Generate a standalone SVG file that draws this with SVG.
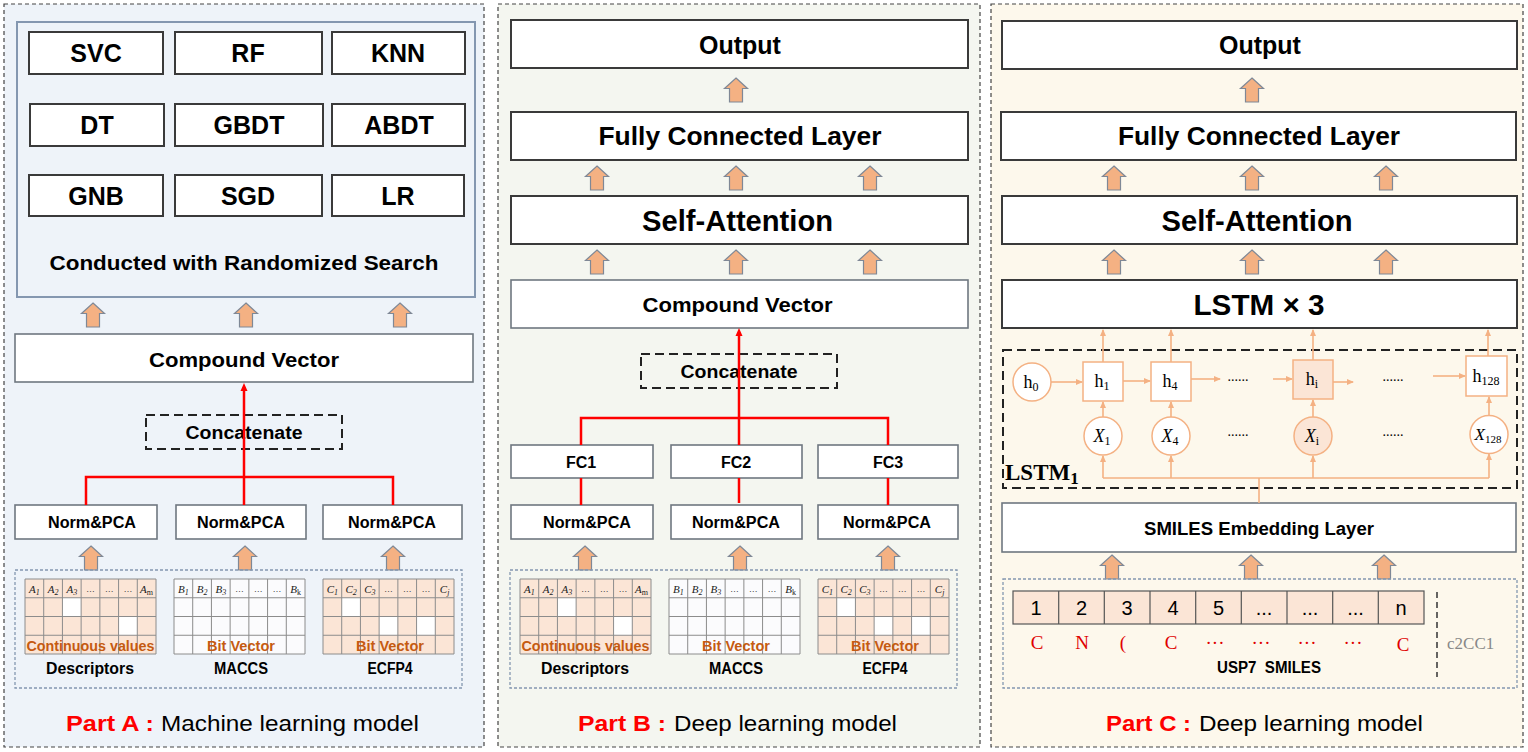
<svg xmlns="http://www.w3.org/2000/svg" width="1528" height="752" viewBox="0 0 1528 752">
<style>
.panel{stroke:#444;stroke-width:1.2;stroke-dasharray:4 3}
.box{fill:#fff;stroke:#3a3a3a;stroke-width:2}
.boxl{fill:#fff;stroke:#6f7780;stroke-width:1.6}
.t{font-family:"Liberation Sans",Arial,sans-serif;font-weight:bold;fill:#000;text-anchor:middle}
.dash{fill:none;stroke:#222;stroke-width:2;stroke-dasharray:9 5}
.area{fill:none;stroke:#8497b0;stroke-width:1.3;stroke-dasharray:3 2}
.red{stroke:#ff0000;stroke-width:2.5;fill:none}
.org{stroke:#f4b183;stroke-width:1.6;fill:none}
.pink{fill:#fbe5d6}
.wc{fill:#ffffff}
.grid{stroke:#8c8c8c;stroke-width:1;fill:none}
.hd{font-family:"Liberation Serif","DejaVu Serif",serif;font-style:italic;font-size:11px;fill:#222;text-anchor:middle}
.hdd{font-family:"Liberation Sans",sans-serif;font-size:9px;fill:#444;text-anchor:middle}
.ov{font-family:"Liberation Sans",Arial,sans-serif;font-weight:bold;font-size:15px;fill:#c55a11;text-anchor:middle}
.lab{font-family:"Liberation Sans",Arial,sans-serif;font-weight:bold;font-size:16px;fill:#000;text-anchor:middle}
.sf{font-family:"Liberation Serif","DejaVu Serif",serif;fill:#000;text-anchor:middle}
.tok{font-family:"Liberation Sans",Arial,sans-serif;font-size:20px;fill:#000;text-anchor:middle}
.rtok{font-family:"Liberation Serif","Times New Roman",serif;font-size:19px;fill:#e00000;text-anchor:middle}
.cap1{font-family:"Liberation Sans",Arial,sans-serif;font-weight:bold;font-size:22px;fill:#ff0000}
.cap2{font-family:"Liberation Sans",Arial,sans-serif;font-size:22px;fill:#000}
.cell{fill:#fff;stroke:#f4b183;stroke-width:1.5}
.cellp{fill:#fbe5d6;stroke:#f4b183;stroke-width:1.5}
</style>
<defs>
<path id="barrow" d="M0,0 L11.5,10.5 L6.5,10.5 L6.5,24 L-6.5,24 L-6.5,10.5 L-11.5,10.5 Z" fill="#f4b183" stroke="#7f8896" stroke-width="1.2"/>
<path id="tgrid" class="grid" d="M0,0 H131 V75 H0 Z M18.71,0 V75 M37.43,0 V75 M56.14,0 V75 M74.86,0 V75 M93.57,0 V75 M112.29,0 V75 M0,18.75 H131 M0,37.5 H131 M0,56.25 H131"/>
<marker id="redh" markerWidth="8" markerHeight="8" refX="4" refY="4" orient="auto" markerUnits="userSpaceOnUse"><path d="M0,0.5 L8,4 L0,7.5 Z" fill="#ff0000"/></marker>
<marker id="orgh" markerWidth="7" markerHeight="7" refX="6" refY="3.5" orient="auto" markerUnits="userSpaceOnUse"><path d="M0,0.5 L7,3.5 L0,6.5 Z" fill="#f4b183"/></marker>
</defs>

<!-- Panels -->
<rect class="panel" x="4" y="4" width="480" height="743" fill="#eef3f9"/>
<rect class="panel" x="498" y="4" width="482" height="743" fill="#f4f6f0"/>
<rect class="panel" x="991" y="4" width="532" height="743" fill="#fdf8ec"/>

<!-- ===== PART A ===== -->
<g id="a-models">
<rect x="17" y="22" width="458" height="275" fill="#eef3f9" stroke="#8497b0" stroke-width="2"/>
<rect class="box" x="29" y="32" width="134" height="42"/><text class="t" x="96" y="62" font-size="25">SVC</text>
<rect class="box" x="175" y="32" width="147" height="42"/><text class="t" x="248" y="62" font-size="25">RF</text>
<rect class="box" x="332" y="32" width="133" height="42"/><text class="t" x="398" y="62" font-size="25">KNN</text>
<rect class="box" x="30" y="104" width="134" height="42"/><text class="t" x="97" y="134" font-size="25">DT</text>
<rect class="box" x="175" y="104" width="148" height="42"/><text class="t" x="249" y="134" font-size="25">GBDT</text>
<rect class="box" x="332" y="104" width="133" height="42"/><text class="t" x="399" y="134" font-size="25">ABDT</text>
<rect class="box" x="29" y="175" width="134" height="41"/><text class="t" x="96" y="205" font-size="25">GNB</text>
<rect class="box" x="175" y="175" width="147" height="41"/><text class="t" x="248" y="205" font-size="25">SGD</text>
<rect class="box" x="332" y="175" width="132" height="41"/><text class="t" x="398" y="205" font-size="25">LR</text>
<text class="t" x="244" y="269.5" font-size="19.5" textLength="389" lengthAdjust="spacingAndGlyphs">Conducted with Randomized Search</text>
</g>
<g id="a-arrows">
<use href="#barrow" x="93" y="303"/><use href="#barrow" x="246" y="303"/><use href="#barrow" x="400" y="303"/>
<use href="#barrow" x="91" y="546"/><use href="#barrow" x="245" y="546"/><use href="#barrow" x="393" y="546"/>
</g>
<g id="a-compound">
<rect class="boxl" x="15" y="334" width="458" height="48"/>
<text class="t" x="244" y="366.5" font-size="21" textLength="190" lengthAdjust="spacingAndGlyphs">Compound Vector</text>
</g>
<g id="a-concat">
<rect class="dash" x="146" y="415" width="196" height="34"/>
<text class="t" x="244" y="439" font-size="18" textLength="117" lengthAdjust="spacingAndGlyphs">Concatenate</text>
</g>
<g id="a-norm">
<rect class="boxl" x="15" y="505" width="142" height="34"/><text class="t" x="92" y="528" font-size="16" textLength="88" lengthAdjust="spacingAndGlyphs">Norm&amp;PCA</text>
<rect class="boxl" x="176" y="505" width="130" height="34"/><text class="t" x="241" y="528" font-size="16" textLength="88" lengthAdjust="spacingAndGlyphs">Norm&amp;PCA</text>
<rect class="boxl" x="323" y="505" width="139" height="34"/><text class="t" x="392" y="528" font-size="16" textLength="88" lengthAdjust="spacingAndGlyphs">Norm&amp;PCA</text>
</g>
<g id="a-inputs">
<rect class="area" x="15" y="570" width="447" height="118"/>
<!-- Descriptors -->
<rect class="pink" x="25" y="579" width="131" height="75"/>
<rect class="wc" x="62.4" y="597.75" width="18.7" height="18.75"/>
<rect class="wc" x="118.6" y="616.5" width="18.7" height="18.75"/>
<use href="#tgrid" x="25" y="579"/>
<!-- MACCS -->
<rect x="174" y="579" width="131" height="75" fill="#fbfbfd"/>
<use href="#tgrid" x="174" y="579"/>
<!-- ECFP4 -->
<rect class="pink" x="323" y="579" width="131" height="75"/>
<rect class="wc" x="341.7" y="597.75" width="18.7" height="18.75"/>
<rect class="wc" x="379.1" y="616.5" width="18.7" height="18.75"/>
<rect class="wc" x="416.6" y="616.5" width="18.7" height="18.75"/>
<use href="#tgrid" x="323" y="579"/>
<g>
<text class="hd" x="34.4" y="593">A<tspan font-size="8" dy="2">1</tspan></text>
<text class="hd" x="53.1" y="593">A<tspan font-size="8" dy="2">2</tspan></text>
<text class="hd" x="71.8" y="593">A<tspan font-size="8" dy="2">3</tspan></text>
<text class="hdd" x="90.5" y="592">…</text><text class="hdd" x="109.2" y="592">…</text><text class="hdd" x="127.9" y="592">…</text>
<text class="hd" x="146.6" y="593">A<tspan font-size="8" dy="2" font-style="normal">m</tspan></text>
<text class="hd" x="183.4" y="593">B<tspan font-size="8" dy="2">1</tspan></text>
<text class="hd" x="202.1" y="593">B<tspan font-size="8" dy="2">2</tspan></text>
<text class="hd" x="220.8" y="593">B<tspan font-size="8" dy="2">3</tspan></text>
<text class="hdd" x="239.5" y="592">…</text><text class="hdd" x="258.2" y="592">…</text><text class="hdd" x="276.9" y="592">…</text>
<text class="hd" x="295.6" y="593">B<tspan font-size="8" dy="2" font-style="normal">k</tspan></text>
<text class="hd" x="332.4" y="593">C<tspan font-size="8" dy="2">1</tspan></text>
<text class="hd" x="351.1" y="593">C<tspan font-size="8" dy="2">2</tspan></text>
<text class="hd" x="369.8" y="593">C<tspan font-size="8" dy="2">3</tspan></text>
<text class="hdd" x="388.5" y="592">…</text><text class="hdd" x="407.2" y="592">…</text><text class="hdd" x="425.9" y="592">…</text>
<text class="hd" x="444.6" y="593">C<tspan font-size="8" dy="2">j</tspan></text>
</g>
<text class="ov" x="90.5" y="651" textLength="128" lengthAdjust="spacingAndGlyphs">Continuous values</text>
<text class="ov" x="241" y="651" textLength="68" lengthAdjust="spacingAndGlyphs">Bit Vector</text>
<text class="ov" x="390" y="651" textLength="68" lengthAdjust="spacingAndGlyphs">Bit Vector</text>
<text class="lab" x="90" y="674" textLength="88" lengthAdjust="spacingAndGlyphs">Descriptors</text>
<text class="lab" x="241" y="674" textLength="54" lengthAdjust="spacingAndGlyphs">MACCS</text>
<text class="lab" x="390" y="674" textLength="45" lengthAdjust="spacingAndGlyphs">ECFP4</text>
</g>
<g id="a-caption">
<text class="cap1" x="66" y="731" textLength="88" lengthAdjust="spacingAndGlyphs">Part A :</text>
<text class="cap2" x="161" y="731" textLength="258" lengthAdjust="spacingAndGlyphs">Machine learning model</text>
</g>

<!-- ===== PART B ===== -->
<g id="b-output"><rect class="box" x="511" y="20" width="457" height="48"/><text class="t" x="740" y="53.5" font-size="25">Output</text></g>
<g id="b-fcl"><rect class="box" x="511" y="112" width="457" height="48"/><text class="t" x="740" y="144.5" font-size="25" textLength="283" lengthAdjust="spacingAndGlyphs">Fully Connected Layer</text></g>
<g id="b-sa"><rect class="box" x="511" y="196" width="457" height="48"/><text class="t" x="737.5" y="231" font-size="29" textLength="191" lengthAdjust="spacingAndGlyphs">Self-Attention</text></g>
<g id="b-compound"><rect class="boxl" x="511" y="280" width="457" height="48"/><text class="t" x="737.5" y="312" font-size="21" textLength="190" lengthAdjust="spacingAndGlyphs">Compound Vector</text></g>
<g id="b-concat"><rect class="dash" x="641" y="354" width="196" height="34"/><text class="t" x="739" y="378" font-size="18" textLength="117" lengthAdjust="spacingAndGlyphs">Concatenate</text></g>
<g id="b-fc">
<rect class="boxl" x="511" y="445" width="142" height="33"/><text class="t" x="581" y="468" font-size="16">FC1</text>
<rect class="boxl" x="671" y="445" width="131" height="33"/><text class="t" x="736" y="468" font-size="16">FC2</text>
<rect class="boxl" x="818" y="445" width="140" height="33"/><text class="t" x="888" y="468" font-size="16">FC3</text>
</g>
<g id="b-norm">
<rect class="boxl" x="511" y="505" width="142" height="34"/><text class="t" x="587" y="528" font-size="16" textLength="88" lengthAdjust="spacingAndGlyphs">Norm&amp;PCA</text>
<rect class="boxl" x="671" y="505" width="131" height="34"/><text class="t" x="736" y="528" font-size="16" textLength="88" lengthAdjust="spacingAndGlyphs">Norm&amp;PCA</text>
<rect class="boxl" x="818" y="505" width="140" height="34"/><text class="t" x="887" y="528" font-size="16" textLength="88" lengthAdjust="spacingAndGlyphs">Norm&amp;PCA</text>
</g>
<g id="b-arrows">
<use href="#barrow" x="736" y="78"/>
<use href="#barrow" x="597" y="166"/><use href="#barrow" x="736" y="166"/><use href="#barrow" x="870" y="166"/>
<use href="#barrow" x="597" y="250"/><use href="#barrow" x="736" y="250"/><use href="#barrow" x="870" y="250"/>
<use href="#barrow" x="585" y="546"/><use href="#barrow" x="740" y="546"/><use href="#barrow" x="888" y="546"/>
</g>
<g id="b-inputs">
<rect class="area" x="510" y="570" width="447" height="118"/>
<rect class="pink" x="520" y="579" width="131" height="75"/>
<rect class="wc" x="557.4" y="597.75" width="18.7" height="18.75"/>
<rect class="wc" x="613.6" y="616.5" width="18.7" height="18.75"/>
<use href="#tgrid" x="520" y="579"/>
<rect x="669" y="579" width="131" height="75" fill="#fbfbfd"/>
<use href="#tgrid" x="669" y="579"/>
<rect class="pink" x="818" y="579" width="131" height="75"/>
<rect class="wc" x="836.7" y="597.75" width="18.7" height="18.75"/>
<rect class="wc" x="874.1" y="616.5" width="18.7" height="18.75"/>
<rect class="wc" x="911.6" y="616.5" width="18.7" height="18.75"/>
<use href="#tgrid" x="818" y="579"/>
<g>
<text class="hd" x="529.4" y="593">A<tspan font-size="8" dy="2">1</tspan></text>
<text class="hd" x="548.1" y="593">A<tspan font-size="8" dy="2">2</tspan></text>
<text class="hd" x="566.8" y="593">A<tspan font-size="8" dy="2">3</tspan></text>
<text class="hdd" x="585.5" y="592">…</text><text class="hdd" x="604.2" y="592">…</text><text class="hdd" x="622.9" y="592">…</text>
<text class="hd" x="641.6" y="593">A<tspan font-size="8" dy="2" font-style="normal">m</tspan></text>
<text class="hd" x="678.4" y="593">B<tspan font-size="8" dy="2">1</tspan></text>
<text class="hd" x="697.1" y="593">B<tspan font-size="8" dy="2">2</tspan></text>
<text class="hd" x="715.8" y="593">B<tspan font-size="8" dy="2">3</tspan></text>
<text class="hdd" x="734.5" y="592">…</text><text class="hdd" x="753.2" y="592">…</text><text class="hdd" x="771.9" y="592">…</text>
<text class="hd" x="790.6" y="593">B<tspan font-size="8" dy="2" font-style="normal">k</tspan></text>
<text class="hd" x="827.4" y="593">C<tspan font-size="8" dy="2">1</tspan></text>
<text class="hd" x="846.1" y="593">C<tspan font-size="8" dy="2">2</tspan></text>
<text class="hd" x="864.8" y="593">C<tspan font-size="8" dy="2">3</tspan></text>
<text class="hdd" x="883.5" y="592">…</text><text class="hdd" x="902.2" y="592">…</text><text class="hdd" x="920.9" y="592">…</text>
<text class="hd" x="939.6" y="593">C<tspan font-size="8" dy="2">j</tspan></text>
</g>
<text class="ov" x="585.5" y="651" textLength="128" lengthAdjust="spacingAndGlyphs">Continuous values</text>
<text class="ov" x="736" y="651" textLength="68" lengthAdjust="spacingAndGlyphs">Bit Vector</text>
<text class="ov" x="885" y="651" textLength="68" lengthAdjust="spacingAndGlyphs">Bit Vector</text>
<text class="lab" x="585" y="674" textLength="88" lengthAdjust="spacingAndGlyphs">Descriptors</text>
<text class="lab" x="736" y="674" textLength="54" lengthAdjust="spacingAndGlyphs">MACCS</text>
<text class="lab" x="885" y="674" textLength="45" lengthAdjust="spacingAndGlyphs">ECFP4</text>
</g>
<g id="b-caption">
<text class="cap1" x="578" y="731" textLength="88" lengthAdjust="spacingAndGlyphs">Part B :</text>
<text class="cap2" x="674" y="731" textLength="223" lengthAdjust="spacingAndGlyphs">Deep learning model</text>
</g>

<!-- ===== PART C ===== -->
<g id="c-output"><rect class="box" x="1002" y="21" width="515" height="48"/><text class="t" x="1260" y="53.5" font-size="25">Output</text></g>
<g id="c-fcl"><rect class="box" x="1001" y="112" width="515" height="48"/><text class="t" x="1259" y="144.5" font-size="25" textLength="282" lengthAdjust="spacingAndGlyphs">Fully Connected Layer</text></g>
<g id="c-sa"><rect class="box" x="1002" y="196" width="515" height="48"/><text class="t" x="1257" y="230.5" font-size="29" textLength="191" lengthAdjust="spacingAndGlyphs">Self-Attention</text></g>
<g id="c-lstm3"><rect class="box" x="1002" y="280" width="515" height="48"/><text class="t" x="1259" y="314.5" font-size="29" textLength="131" lengthAdjust="spacingAndGlyphs">LSTM × 3</text></g>
<g id="c-arrows">
<use href="#barrow" x="1252" y="78"/>
<use href="#barrow" x="1114" y="166"/><use href="#barrow" x="1252" y="166"/><use href="#barrow" x="1386" y="166"/>
<use href="#barrow" x="1114" y="250"/><use href="#barrow" x="1252" y="250"/><use href="#barrow" x="1386" y="250"/>
<use href="#barrow" x="1112" y="555"/><use href="#barrow" x="1251" y="555"/><use href="#barrow" x="1384" y="555"/>
</g>
<g id="c-lstm1">
<rect class="dash" x="1003" y="350" width="514" height="138" stroke-width="1.6" stroke-dasharray="7 4"/>
<text class="sf" x="1005" y="480" font-size="23" font-weight="bold" style="text-anchor:start">LSTM<tspan font-size="17" dy="4">1</tspan></text>
</g>
<g id="c-cells">
<circle class="cell" cx="1032" cy="382" r="19"/><text class="sf" x="1031" y="388" font-size="18">h<tspan font-size="12" dy="3">0</tspan></text>
<rect class="cell" x="1083" y="362" width="40" height="39"/><text class="sf" x="1102" y="387" font-size="18">h<tspan font-size="12" dy="3">1</tspan></text>
<rect class="cell" x="1151" y="362" width="40" height="39"/><text class="sf" x="1170" y="387" font-size="18">h<tspan font-size="12" dy="3">4</tspan></text>
<rect class="cellp" x="1293" y="360" width="40" height="39"/><text class="sf" x="1312" y="385" font-size="18">h<tspan font-size="12" dy="3">i</tspan></text>
<rect class="cell" x="1466" y="356" width="41" height="40"/><text class="sf" x="1486" y="382" font-size="18">h<tspan font-size="12" dy="3">128</tspan></text>
<circle class="cell" cx="1103" cy="436" r="19"/><text class="sf" x="1102" y="442" font-size="18" font-style="italic">X<tspan font-size="12" dy="3" font-style="normal">1</tspan></text>
<circle class="cell" cx="1171" cy="436" r="19"/><text class="sf" x="1170" y="442" font-size="18" font-style="italic">X<tspan font-size="12" dy="3" font-style="normal">4</tspan></text>
<circle class="cellp" cx="1313" cy="436" r="19"/><text class="sf" x="1312" y="442" font-size="18" font-style="italic">X<tspan font-size="12" dy="3" font-style="normal">i</tspan></text>
<circle class="cell" cx="1489" cy="434.5" r="19"/><text class="sf" x="1488" y="440" font-size="17" font-style="italic">X<tspan font-size="11" dy="3" font-style="normal">128</tspan></text>
<text class="sf" x="1238" y="381" font-size="14">......</text>
<text class="sf" x="1393" y="381" font-size="14">......</text>
<text class="sf" x="1238" y="436" font-size="14">......</text>
<text class="sf" x="1393" y="436" font-size="14">......</text>
</g>
<g id="c-embed">
<rect class="boxl" x="1002" y="503" width="514" height="49"/>
<text class="t" x="1259" y="535" font-size="18" textLength="230" lengthAdjust="spacingAndGlyphs">SMILES Embedding Layer</text>
</g>
<g id="c-smiles">
<rect class="area" x="1003" y="579" width="514" height="109"/>
<rect x="1013" y="591" width="411" height="33" fill="#fbe5d6" stroke="#555" stroke-width="1.2"/>
<path d="M1058.7,591 V624 M1104.3,591 V624 M1150,591 V624 M1195.7,591 V624 M1241.3,591 V624 M1287,591 V624 M1332.7,591 V624 M1378.3,591 V624" stroke="#555" stroke-width="1.2"/>
<text class="tok" x="1036" y="615">1</text>
<text class="tok" x="1081.5" y="615">2</text>
<text class="tok" x="1127" y="615">3</text>
<text class="tok" x="1173" y="615">4</text>
<text class="tok" x="1218.5" y="615">5</text>
<text class="tok" x="1264" y="615" font-size="16">...</text>
<text class="tok" x="1310" y="615" font-size="16">...</text>
<text class="tok" x="1355.5" y="615" font-size="16">...</text>
<text class="tok" x="1401" y="615">n</text>
<text class="rtok" x="1037" y="649">C</text>
<text class="rtok" x="1082" y="649">N</text>
<text class="rtok" x="1123" y="649">(</text>
<text class="rtok" x="1171" y="649">C</text>
<text class="rtok" x="1215" y="649" font-size="15">···</text>
<text class="rtok" x="1261" y="649" font-size="15">···</text>
<text class="rtok" x="1307" y="649" font-size="15">···</text>
<text class="rtok" x="1353" y="649" font-size="15">···</text>
<text class="rtok" x="1403" y="651">C</text>
<text class="lab" x="1269" y="673" style="white-space:pre" textLength="104" lengthAdjust="spacingAndGlyphs">USP7  SMILES</text>
<line x1="1437" y1="592" x2="1437" y2="677" stroke="#333" stroke-width="1.5" stroke-dasharray="6 4"/>
<text x="1447" y="649" font-family="Liberation Serif, serif" font-size="17" fill="#888">c2CC1</text>
</g>
<g id="c-caption">
<text class="cap1" x="1106" y="731" textLength="85" lengthAdjust="spacingAndGlyphs">Part C :</text>
<text class="cap2" x="1199" y="731" textLength="224" lengthAdjust="spacingAndGlyphs">Deep learning model</text>
</g>

<!-- ===== Connectors ===== -->
<g id="connectors">
<path class="red" d="M86,505 V477 H393 V505"/>
<line class="red" x1="244" y1="505" x2="244" y2="387" marker-end="url(#redh)"/>
<path class="red" d="M581,445 V418 H888 V445"/>
<line class="red" x1="739" y1="445" x2="739" y2="332" marker-end="url(#redh)"/>
<line class="red" x1="581" y1="478" x2="581" y2="505"/>
<line class="red" x1="739" y1="478" x2="739" y2="503"/>
<line class="red" x1="888" y1="478" x2="888" y2="505"/>
<line class="org" x1="1103" y1="362" x2="1103" y2="330" marker-end="url(#orgh)"/>
<line class="org" x1="1171" y1="362" x2="1171" y2="330" marker-end="url(#orgh)"/>
<line class="org" x1="1313" y1="360" x2="1313" y2="330" marker-end="url(#orgh)"/>
<line class="org" x1="1488" y1="356" x2="1488" y2="330" marker-end="url(#orgh)"/>
<line class="org" x1="1051" y1="382" x2="1082" y2="382" marker-end="url(#orgh)"/>
<line class="org" x1="1123" y1="381" x2="1150" y2="381" marker-end="url(#orgh)"/>
<line class="org" x1="1191" y1="379" x2="1220" y2="379" marker-end="url(#orgh)"/>
<line class="org" x1="1273" y1="379" x2="1292" y2="379" marker-end="url(#orgh)"/>
<line class="org" x1="1333" y1="382" x2="1353" y2="382" marker-end="url(#orgh)"/>
<line class="org" x1="1433" y1="376" x2="1465" y2="376" marker-end="url(#orgh)"/>
<line class="org" x1="1103" y1="417" x2="1103" y2="402" marker-end="url(#orgh)"/>
<line class="org" x1="1171" y1="417" x2="1171" y2="402" marker-end="url(#orgh)"/>
<line class="org" x1="1313" y1="417" x2="1313" y2="400" marker-end="url(#orgh)"/>
<line class="org" x1="1489" y1="415" x2="1489" y2="397" marker-end="url(#orgh)"/>
<path class="org" d="M1103,478 H1489 M1259,478 V503"/>
<line class="org" x1="1103" y1="478" x2="1103" y2="456" marker-end="url(#orgh)"/>
<line class="org" x1="1171" y1="478" x2="1171" y2="456" marker-end="url(#orgh)"/>
<line class="org" x1="1313" y1="478" x2="1313" y2="456" marker-end="url(#orgh)"/>
<line class="org" x1="1489" y1="478" x2="1489" y2="454" marker-end="url(#orgh)"/>
</g>
</svg>
